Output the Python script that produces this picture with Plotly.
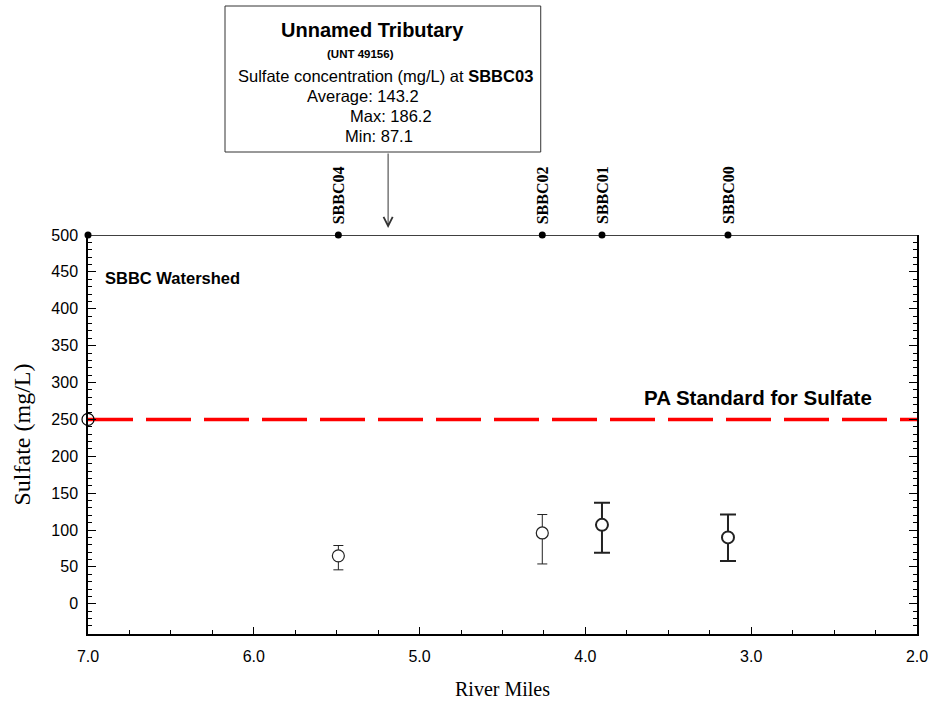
import plotly.graph_objects as go

# ---- data ----
stations = ["SBBC04", "SBBC02", "SBBC01", "SBBC00"]
river_mile = [5.49, 4.26, 3.90, 3.14]
sulfate_avg = [65, 96, 107, 90]
sulfate_max = [79, 121, 137, 121]
sulfate_min = [46, 54, 69, 58]
standard_value = 250
trib_mile = 5.19
trib_name = "Unnamed Tributary"
trib_id = "(UNT 49156)"
trib_avg, trib_max, trib_min = 143.2, 186.2, 87.1
x_ticks = [7.0, 6.0, 5.0, 4.0, 3.0, 2.0]
top_line_x = [7.0, 2.0]

SANS = "Liberation Sans, Arial, sans-serif"
SERIF = "Liberation Serif, Times New Roman, serif"

# plot-area pixel geometry (for placing layout text)
L, R, T, B = 88, 923, 235, 634
def px_x(px):
    return (px - L) / (R - L)
def px_y(py):
    return (B - py) / (B - T)

fig = go.Figure()

# standard line
fig.add_trace(go.Scatter(x=[7.0, 2.0], y=[standard_value, standard_value], mode="lines",
                         line=dict(color="#ff0000", width=3.5, dash="45px,13px"),
                         hoverinfo="skip", showlegend=False, cliponaxis=False))
fig.add_trace(go.Scatter(x=[7.0], y=[standard_value], mode="markers",
                         marker=dict(symbol="circle-open", size=12, color="black", line=dict(width=1.2)),
                         showlegend=False, cliponaxis=False))

# top station line with dots
fig.add_trace(go.Scatter(x=top_line_x, y=[500, 500], mode="lines",
                         line=dict(color="black", width=1.5), showlegend=False, cliponaxis=False))
fig.add_trace(go.Scatter(x=[7.0] + river_mile, y=[500] * (len(river_mile) + 1), mode="markers",
                         marker=dict(color="black", size=7), showlegend=False, cliponaxis=False))

# data points with error bars (thin then thick)
groups = [(slice(0, 2), 1.0, 5, 1.2), (slice(2, 4), 2.0, 8, 2.0)]
for sl, ew, cw, mw in groups:
    xs = river_mile[sl]
    ys = sulfate_avg[sl]
    up = [m - a for m, a in zip(sulfate_max[sl], ys)]
    dn = [a - m for m, a in zip(sulfate_min[sl], ys)]
    fig.add_trace(go.Scatter(
        x=xs, y=ys, mode="markers",
        marker=dict(symbol="circle", size=12, color="white", line=dict(color="#222", width=mw)),
        error_y=dict(type="data", symmetric=False, array=up, arrayminus=dn,
                     color="#222", thickness=ew, width=cw),
        showlegend=False))

# station labels
for s, m in zip(stations, river_mile):
    fig.add_annotation(x=m, y=1, xref="x", yref="paper", text=f"<b>{s}</b>",
                       textangle=-90, showarrow=False, yanchor="bottom", xanchor="center",
                       yshift=9, font=dict(family=SERIF, size=16, color="black"))

# info box
fig.add_shape(type="rect", xref="paper", yref="paper",
              x0=px_x(226), x1=px_x(544), y0=px_y(152), y1=px_y(6),
              line=dict(color="#333", width=1), fillcolor="white")
box_lines = [
    (f"<b>{trib_name}</b>", 375, 30, 20, "center"),
    (f"<b>{trib_id}</b>", 362, 54, 11.5, "center"),
    ("Sulfate concentration (mg/L) at <b>SBBC03</b>", 237, 76, 16.5, "left"),
    (f"Average: {trib_avg}", 307, 96, 16.5, "left"),
    (f"Max: {trib_max}", 350, 116, 16.5, "left"),
    (f"Min: {trib_min}", 345, 136, 16.5, "left"),
]
for txt, xp, yp, fs, anc in box_lines:
    fig.add_annotation(x=px_x(xp), y=px_y(yp), xref="paper", yref="paper", text=txt,
                       showarrow=False, xanchor=anc, yanchor="middle",
                       font=dict(family=SANS, size=fs, color="black"))

# arrow
fig.add_annotation(x=trib_mile, y=px_y(228), xref="x", yref="paper", text="",
                   showarrow=True, ax=0, ay=-76, arrowhead=5, arrowsize=1.8,
                   arrowwidth=1, arrowcolor="#333")

# text labels
fig.add_annotation(x=px_x(103), y=px_y(278), xref="paper", yref="paper",
                   text="<b>SBBC Watershed</b>", showarrow=False, xanchor="left",
                   yanchor="middle", font=dict(family=SANS, size=16.5, color="black"))
fig.add_annotation(x=px_x(646), y=px_y(397), xref="paper", yref="paper",
                   text="<b>PA Standard for Sulfate</b>", showarrow=False, xanchor="left",
                   yanchor="middle", font=dict(family=SANS, size=20.5, color="black"))

fig.update_layout(
    width=940, height=711,
    margin=dict(l=L, r=940 - R, t=T, b=711 - B),
    paper_bgcolor="white", plot_bgcolor="white",
    showlegend=False,
    xaxis=dict(range=[7.0, 2.0], tickvals=x_ticks, ticktext=[f"{v:.1f}" for v in x_ticks],
               ticks="inside", ticklen=7, tickwidth=1, tickcolor="black",
               minor=dict(dtick=0.25, tick0=2, ticks="inside", ticklen=4, tickcolor="black"),
               showline=True, linecolor="black", linewidth=1.5, mirror=False,
               showgrid=False, zeroline=False,
               tickfont=dict(family=SANS, size=16, color="black"), ticklabelstandoff=7,
               title=dict(text="River Miles", font=dict(family=SERIF, size=20, color="black"),
                          standoff=18)),
    yaxis=dict(range=[-41, 500], tickvals=list(range(0, 501, 50)),
               ticks="inside", ticklen=8, tickwidth=1, tickcolor="black",
               minor=dict(dtick=10, tick0=0, ticks="inside", ticklen=4, tickcolor="black"),
               showline=True, linecolor="black", linewidth=1.5, mirror="ticks",
               showgrid=False, zeroline=False,
               tickfont=dict(family=SANS, size=16, color="black"), ticklabelstandoff=5,
               title=dict(text="Sulfate (mg/L)", font=dict(family=SERIF, size=24, color="black"),
                          standoff=14)),
)

fig.write_html("out.html")
